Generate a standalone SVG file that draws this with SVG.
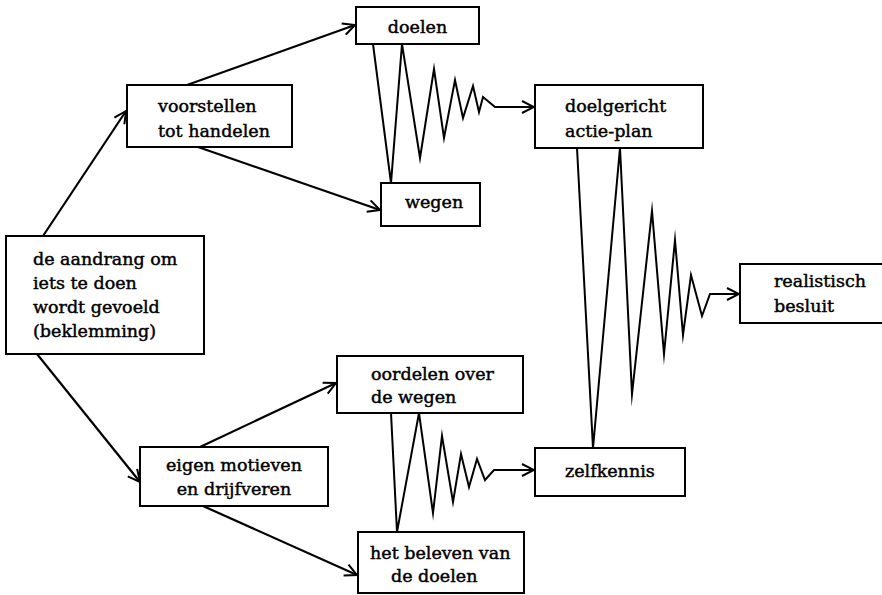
<svg xmlns="http://www.w3.org/2000/svg" width="882" height="595" viewBox="0 0 882 595">
<style>
.box{fill:#fff;stroke:#000;stroke-width:2}
.t{font-family:"DejaVu Serif","Liberation Serif",serif;font-size:17.5px;fill:#000;stroke:#000;stroke-width:0.45}
.c{fill:none;stroke:#000;stroke-width:2.2;stroke-linejoin:miter}
.z{fill:none;stroke:#000;stroke-width:2;stroke-linejoin:miter;stroke-miterlimit:20}
</style>
<defs>
<marker id="ah" markerWidth="14" markerHeight="14" viewBox="-13 -7 14 14" refX="0" refY="0" orient="auto" markerUnits="userSpaceOnUse">
<path d="M-12,-6 L0,0 L-12,6" fill="none" stroke="#000" stroke-width="2"/>
</marker>
</defs>
<rect width="882" height="595" fill="#fff"/>
<g id="connectors">
<line class="c" x1="43" y1="236" x2="126" y2="111" marker-end="url(#ah)"/>
<line class="c" x1="37" y1="354" x2="140" y2="482" marker-end="url(#ah)"/>
<line class="c" x1="187" y1="85" x2="355" y2="25" marker-end="url(#ah)"/>
<line class="c" x1="198" y1="147" x2="380" y2="210" marker-end="url(#ah)"/>
<line class="c" x1="200" y1="447" x2="336" y2="383" marker-end="url(#ah)"/>
<line class="c" x1="203" y1="506" x2="357" y2="575" marker-end="url(#ah)"/>
<polyline class="z" points="373,44 391,183 402,44 420,158 434,69 444,138 455,80 463,118 473,86 479,112 483,97 495,107 534,107" marker-end="url(#ah)"/>
<polyline class="z" points="391,413 397,532 419,413 433,513 442,436 453,502 461,454 469,487 477,459 485,480 494,470 534,470" marker-end="url(#ah)"/>
<polyline class="z" points="577,148 593,448 620,148 632,394 652,211 664,354 675,240 683,335 691,275 702,316 710,294 739,294" marker-end="url(#ah)"/>
</g>
<g id="n-doelen"><rect class="box" x="356" y="7" width="123" height="37"/><text class="t" x="417.5" y="33" text-anchor="middle">doelen</text></g>
<g id="n-voorstellen"><rect class="box" x="127" y="85" width="165" height="62"/><text class="t" x="158" y="112">voorstellen</text><text class="t" x="158" y="137">tot handelen</text></g>
<g id="n-wegen"><rect class="box" x="381" y="183" width="99" height="43"/><text class="t" x="405" y="208">wegen</text></g>
<g id="n-doelgericht"><rect class="box" x="535" y="85" width="168" height="63"/><text class="t" x="565" y="112">doelgericht</text><text class="t" x="565" y="137">actie-plan</text></g>
<g id="n-aandrang"><rect class="box" x="6" y="236" width="198" height="118"/><text class="t" x="33" y="265">de aandrang om</text><text class="t" x="33" y="289">iets te doen</text><text class="t" x="33" y="313">wordt gevoeld</text><text class="t" x="33" y="337">(beklemming)</text></g>
<g id="n-realistisch"><path class="box" d="M884,264 L740,264 L740,323 L884,323"/><text class="t" x="774" y="287">realistisch</text><text class="t" x="774" y="312">besluit</text></g>
<g id="n-oordelen"><rect class="box" x="337" y="356" width="186" height="57"/><text class="t" x="371" y="380">oordelen over</text><text class="t" x="371" y="403">de wegen</text></g>
<g id="n-eigen"><rect class="box" x="140" y="447" width="188" height="59"/><text class="t" x="234" y="471" text-anchor="middle">eigen motieven</text><text class="t" x="234" y="495" text-anchor="middle">en drijfveren</text></g>
<g id="n-zelfkennis"><rect class="box" x="535" y="448" width="150" height="48"/><text class="t" x="565" y="477">zelfkennis</text></g>
<g id="n-beleven"><rect class="box" x="358" y="532" width="166" height="61"/><text class="t" x="370" y="559">het beleven van</text><text class="t" x="391" y="582">de doelen</text></g>
</svg>
